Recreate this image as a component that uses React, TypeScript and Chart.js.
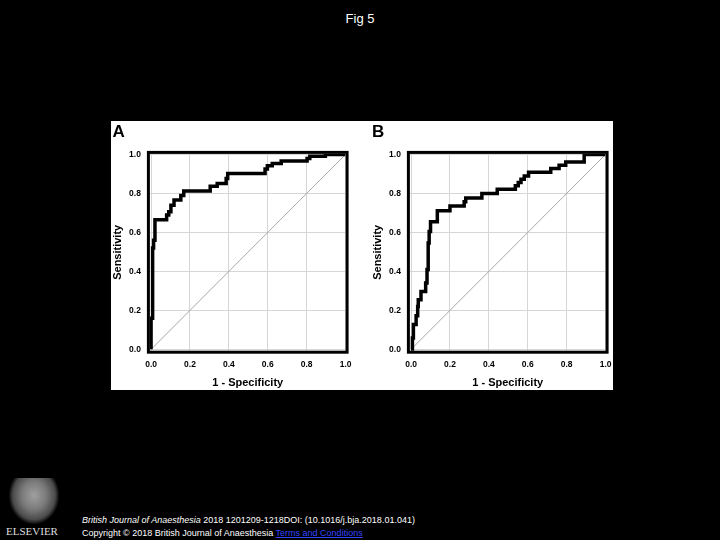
import React, { useEffect, useRef } from 'react';
import { Chart, registerables } from 'chart.js';

Chart.register(...registerables);

const FONT = '"Liberation Sans", Arial, Helvetica, sans-serif';

// Axis ticks
const tickValues = [0, 0.2, 0.4, 0.6, 0.8, 1.0];
const tickLabels = ['0.0', '0.2', '0.4', '0.6', '0.8', '1.0'];

// Panel A ROC curve (1 - specificity, sensitivity)
const rocAFpr = [0, 0, 0.008, 0.013, 0.02, 0.08, 0.091, 0.102, 0.118, 0.153, 0.168, 0.304, 0.34, 0.386, 0.394, 0.586, 0.598, 0.623, 0.669, 0.802, 0.816, 0.896, 1.0];
const rocATpr = [0, 0.16, 0.52, 0.56, 0.665, 0.689, 0.706, 0.74, 0.766, 0.79, 0.813, 0.837, 0.851, 0.877, 0.903, 0.925, 0.942, 0.954, 0.966, 0.979, 0.991, 1.0, 1.0];

// Panel B ROC curve
const rocBFpr = [0, 0.007, 0.012, 0.026, 0.034, 0.037, 0.051, 0.075, 0.082, 0.088, 0.093, 0.1, 0.135, 0.2, 0.273, 0.281, 0.364, 0.443, 0.536, 0.551, 0.565, 0.582, 0.604, 0.718, 0.761, 0.795, 0.89, 1.0];
const rocBTpr = [0, 0.058, 0.127, 0.173, 0.22, 0.255, 0.297, 0.34, 0.41, 0.546, 0.605, 0.655, 0.711, 0.735, 0.757, 0.777, 0.8, 0.822, 0.839, 0.856, 0.873, 0.89, 0.909, 0.928, 0.945, 0.962, 1.0, 1.0];

// Reference (chance) line
const refX = [0, 1];
const refY = [0, 1];

const framePlugin = {
  id: 'frame',
  afterDatasetsDraw(chart: any) {
    const { ctx, chartArea } = chart;
    const { left, top, right, bottom } = chartArea;
    ctx.save();
    ctx.strokeStyle = '#000';
    ctx.lineWidth = 3;
    ctx.strokeRect(left - 1.5, top - 1.5, right - left + 3, bottom - top + 3);
    ctx.restore();
  },
};

function RocPanel({ fpr, tpr }: { fpr: number[]; tpr: number[] }) {
  const ref = useRef<HTMLCanvasElement | null>(null);
  useEffect(() => {
    if (!ref.current) return;
    const tickFont = { family: FONT, size: 8.5, weight: 'bold' as const };
    const titleFont = { family: FONT, size: 11, weight: 'bold' as const };
    const chart = new Chart(ref.current, {
      type: 'line',
      data: {
        datasets: [
          {
            data: fpr.map((x, i) => ({ x, y: tpr[i] })),
            borderColor: '#000',
            borderWidth: 3.5,
            stepped: 'before',
            pointRadius: 0,
            fill: false,
            borderJoinStyle: 'miter',
            borderCapStyle: 'butt',
          } as any,
          {
            data: refX.map((x, i) => ({ x, y: refY[i] })),
            borderColor: '#a8a8a8',
            borderWidth: 1,
            pointRadius: 0,
            fill: false,
          } as any,
        ],
      },
      options: {
        animation: false,
        responsive: true,
        maintainAspectRatio: false,
        layout: { padding: { top: 32.9, right: 12.9, bottom: 0, left: 0 } },
        plugins: {
          legend: { display: false },
          tooltip: { enabled: false },
        },
        scales: {
          x: {
            type: 'linear',
            min: -0.006,
            max: 1.0,
            afterBuildTicks: (s: any) => {
              s.ticks = tickValues.map((v) => ({ value: v }));
            },
            afterFit: (s: any) => {
              s.height = 39.3;
            },
            grid: { color: '#d6d6d6', lineWidth: 1, drawTicks: false },
            border: { display: false },
            ticks: {
              padding: 8.5,
              color: '#000',
              font: tickFont,
              maxRotation: 0,
              autoSkip: false,
              callback: (_v: any, i: number) => tickLabels[i],
            },
            title: {
              display: true,
              text: '1 - Specificity',
              color: '#000',
              font: titleFont,
              padding: { top: 0, bottom: 0.6 },
            },
          },
          y: {
            type: 'linear',
            min: -0.007,
            max: 1.003,
            afterBuildTicks: (s: any) => {
              s.ticks = tickValues.map((v) => ({ value: v }));
            },
            afterFit: (s: any) => {
              s.width = 39.9;
            },
            grid: { color: '#d6d6d6', lineWidth: 1, drawTicks: false },
            border: { display: false },
            ticks: {
              padding: 9,
              color: '#000',
              font: tickFont,
              autoSkip: false,
              callback: (_v: any, i: number) => tickLabels[i],
            },
            title: {
              display: true,
              text: 'Sensitivity',
              color: '#000',
              font: titleFont,
              padding: { top: 1, bottom: 0 },
            },
          },
        },
      } as any,
      plugins: [framePlugin],
    });
    return () => chart.destroy();
  }, [fpr, tpr]);
  return (
    <div style={{ position: 'relative', width: 250, height: 269 }}>
      <canvas ref={ref} />
    </div>
  );
}

const letterStyle: React.CSSProperties = {
  position: 'absolute',
  top: 2.2,
  fontFamily: FONT,
  fontWeight: 'bold',
  fontSize: 17,
  lineHeight: '17px',
  color: '#000',
};

const footStyle: React.CSSProperties = {
  position: 'absolute',
  left: 82,
  color: '#fff',
  fontSize: 9,
  lineHeight: '10px',
  whiteSpace: 'nowrap',
};

export default function App() {
  return (
    <div
      style={{
        position: 'fixed',
        left: 0,
        top: 0,
        width: 720,
        height: 540,
        background: '#000',
        overflow: 'hidden',
        fontFamily: FONT,
      }}
    >
      <div
        style={{
          position: 'absolute',
          left: 0,
          top: 10.5,
          width: 720,
          textAlign: 'center',
          color: '#fff',
          fontSize: 13,
          lineHeight: '15px',
        }}
      >
        Fig 5
      </div>

      <div
        style={{
          position: 'absolute',
          left: 111,
          top: 121,
          width: 502,
          height: 269,
          background: '#fff',
          overflow: 'hidden',
        }}
      >
        <div style={{ position: 'absolute', left: -1, top: 0 }}>
          <RocPanel fpr={rocAFpr} tpr={rocATpr} />
        </div>
        <div style={{ position: 'absolute', left: 258.9, top: 0 }}>
          <RocPanel fpr={rocBFpr} tpr={rocBTpr} />
        </div>
        <div style={{ ...letterStyle, left: 1.5 }}>A</div>
        <div style={{ ...letterStyle, left: 261 }}>B</div>
      </div>

      {/* Elsevier logo approximation */}
      <div
        style={{
          position: 'absolute',
          left: 9,
          top: 478,
          width: 50,
          height: 46,
          background:
            'radial-gradient(ellipse at 50% 38%, #a0a0a0 0%, #7a7a7a 35%, #4a4a4a 60%, rgba(0,0,0,0) 72%)',
        }}
      />
      <div
        style={{
          position: 'absolute',
          left: 6,
          top: 525,
          fontFamily: '"Liberation Serif", "Times New Roman", serif',
          fontSize: 11,
          lineHeight: '12px',
          color: '#ddd',
        }}
      >
        ELSEVIER
      </div>

      <div style={{ ...footStyle, top: 514.5 }}>
        <i>British Journal of Anaesthesia</i> 2018 1201209-1218DOI: (10.1016/j.bja.2018.01.041)
      </div>
      <div style={{ ...footStyle, top: 527.5 }}>
        Copyright © 2018 British Journal of Anaesthesia{' '}
        <span style={{ color: '#3344ff', textDecoration: 'underline' }}>Terms and Conditions</span>
      </div>
    </div>
  );
}
